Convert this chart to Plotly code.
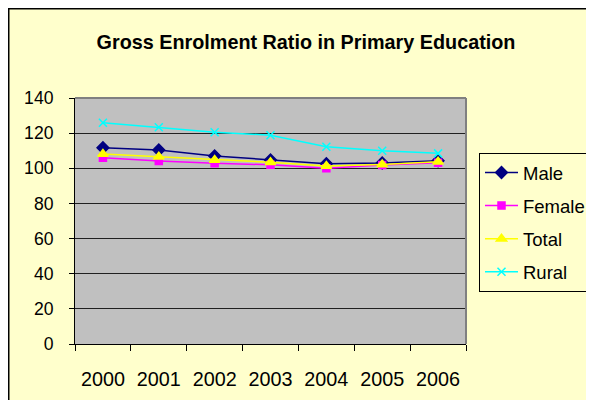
import plotly.graph_objects as go

years = ["2000", "2001", "2002", "2003", "2004", "2005", "2006"]
male = [111.7, 110.4, 107.0, 104.7, 102.6, 103.0, 104.3]
female = [106.0, 104.1, 102.8, 102.0, 100.0, 101.9, 103.2]
total = [108.1, 106.6, 104.7, 103.4, 101.3, 102.2, 103.7]
rural = [125.9, 123.3, 120.5, 118.8, 112.3, 110.0, 108.5]
y_ticks = [0, 20, 40, 60, 80, 100, 120, 140]

FONT = "Arial, Liberation Sans, sans-serif"
W, H = 586, 392
L, R, T, B = 67, 128, 90, 56
pw, ph = W - L - R, H - T - B

series = [
    ("Male", male, "#000080", "diamond", 9),
    ("Female", female, "#FF00FF", "square", 7),
    ("Total", total, "#FFFF00", "triangle-up", 9),
    ("Rural", rural, "#00FFFF", "x-thin-open", 8),
]

fig = go.Figure()
for name, vals, col, sym, sz in series:
    fig.add_trace(go.Scatter(
        x=years, y=vals, name=name, mode="lines+markers",
        legendgroup=name,
        line=dict(color=col, width=1.5),
        marker=dict(symbol=sym, size=sz, color=col, line=dict(color=col, width=1.5)),
    ))

def px_x(p):
    return (p - L) / pw

def px_y(p):
    return (H - B - p) / ph

fig.update_layout(
    width=W, height=H,
    margin=dict(l=L, r=R, t=T, b=B, autoexpand=False),
    paper_bgcolor="#FFFFCC",
    plot_bgcolor="#C0C0C0",
    font=dict(family=FONT, size=19, color="black"),
    title=dict(text="<b>Gross Enrolment Ratio in Primary Education</b>",
               x=298 / W, xanchor="center", y=1 - 34 / H, yanchor="middle",
               font=dict(family=FONT, size=19.8, color="black")),
    showlegend=True,
    legend=dict(x=px_x(471), xanchor="left", y=px_y(145), yanchor="top",
                bgcolor="#FFFFCC", bordercolor="black", borderwidth=1,
                font=dict(family=FONT, size=18.5), tracegroupgap=6,
                itemwidth=33),
    xaxis=dict(type="category", range=[-0.5, 6.5], showgrid=False,
               showline=True, linecolor="black", linewidth=1,
               ticks="outside", ticklen=6, tickcolor="black",
               tickfont=dict(size=19.8),
               tickson="boundaries", ticklabelstandoff=17, zeroline=False),
    yaxis=dict(range=[0, 140], tickvals=y_ticks, showgrid=True,
               gridcolor="#202020", gridwidth=1,
               showline=True, linecolor="black", linewidth=1,
               ticks="outside", ticklen=5, tickcolor="black",
               tickfont=dict(size=17.6),
               ticklabelstandoff=12, zeroline=False),
    shapes=[
        dict(type="line", xref="paper", yref="paper", x0=0, x1=1, y0=1, y1=1,
             line=dict(color="#808080", width=2)),
        dict(type="line", xref="paper", yref="paper", x0=1, x1=1, y0=0, y1=1,
             line=dict(color="#808080", width=2)),
        dict(type="rect", xref="paper", yref="paper",
             x0=px_x(0.75), x1=px_x(600), y0=px_y(0.75), y1=px_y(405),
             line=dict(color="black", width=1.5), layer="below"),
    ],
)

fig.write_html("out.html")
